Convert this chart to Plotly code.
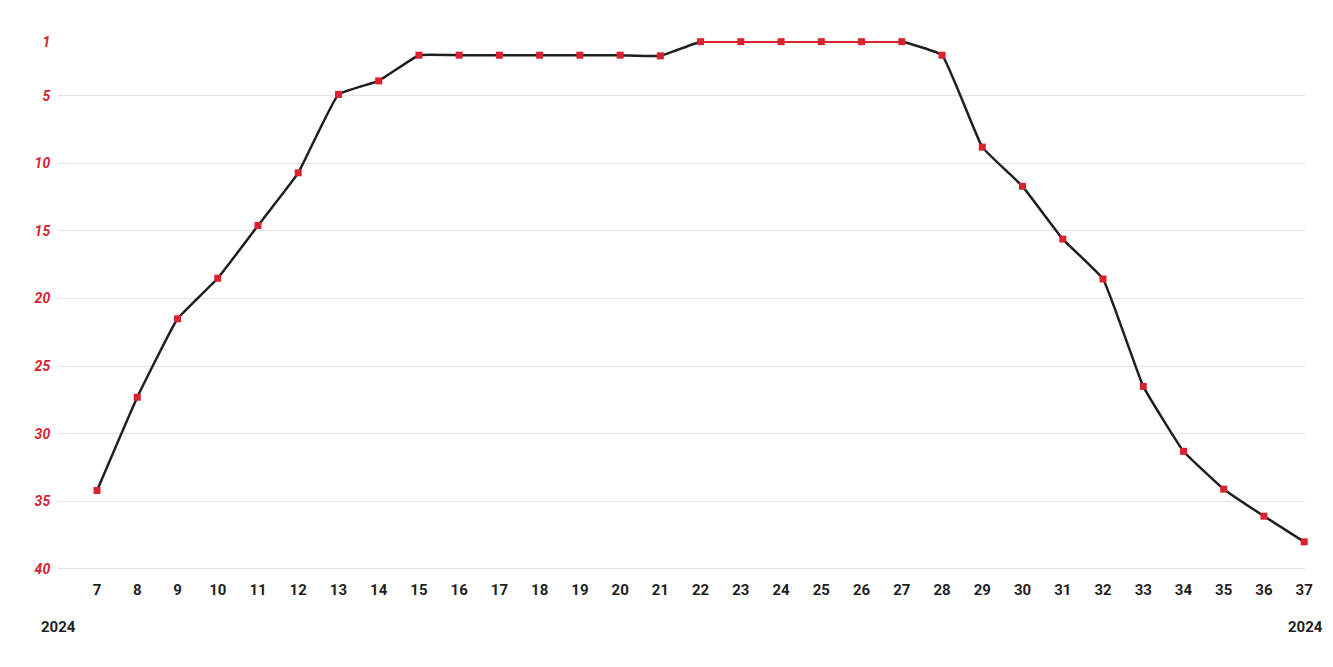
import plotly.graph_objects as go

# Chart position per calendar week of 2024
weeks = list(range(7, 38))
ranks = [34.2, 27.3, 21.5, 18.5, 14.6, 10.7, 4.9, 3.9,
         2.0, 2.0, 2.0, 2.0, 2.0, 2.0, 2.05,
         1, 1, 1, 1, 1, 1,
         2.0, 8.8, 11.7, 15.6, 18.55, 26.5, 31.3, 34.1, 36.1, 38.0]
year_label = "2024"
y_ticks = [1, 5, 10, 15, 20, 25, 30, 35, 40]

RED = "#d7232d"
INK = "#1f1f1f"

# weeks spent at number one get a red line
top_weeks = [w for w, r in zip(weeks, ranks) if r == 1]
top_ranks = [1] * len(top_weeks)

fig = go.Figure()

fig.add_trace(go.Scatter(
    x=weeks, y=ranks, mode="lines",
    line=dict(color=INK, width=2.5, shape="spline", smoothing=0.3),
    hoverinfo="skip",
))
fig.add_trace(go.Scatter(
    x=top_weeks, y=top_ranks, mode="lines",
    line=dict(color=RED, width=2.5),
    hoverinfo="skip",
))
fig.add_trace(go.Scatter(
    x=weeks, y=ranks, mode="markers",
    marker=dict(symbol="square", size=7, color=RED),
    cliponaxis=False,
))

fig.update_layout(
    width=1317, height=651,
    showlegend=False,
    plot_bgcolor="white",
    paper_bgcolor="white",
    margin=dict(l=50, r=20, t=33, b=89),
    font=dict(family="Liberation Sans Narrow, Roboto, sans-serif"),
)

fig.update_xaxes(
    range=[6.03, 37.02],
    tickmode="array",
    tickvals=weeks,
    ticktext=[str(w) for w in weeks],
    showgrid=False, zeroline=False, showline=False,
    ticks="outside", ticklen=6, tickcolor="rgba(0,0,0,0)",
    tickfont=dict(size=15, color=INK, weight="bold"),
)

fig.update_yaxes(
    range=[40.08, 0.95],
    tickmode="array",
    tickvals=y_ticks,
    ticktext=[str(t) for t in y_ticks],
    showgrid=True, gridcolor="#e2e2e2", gridwidth=1,
    zeroline=False, showline=False,
    ticks="outside", ticklen=4, tickcolor="rgba(0,0,0,0)",
    tickfont=dict(size=14, color=RED, weight="bold", style="italic"),
)

# year labels under the first and last week
for xpos in [0.0, 1.0]:
    fig.add_annotation(
        text=year_label, xref="paper", yref="paper",
        x=xpos, y=-0.108,
        xanchor="center", yanchor="middle", showarrow=False,
        font=dict(size=15, color=INK, weight="bold"),
    )

fig.write_html("out.html")
